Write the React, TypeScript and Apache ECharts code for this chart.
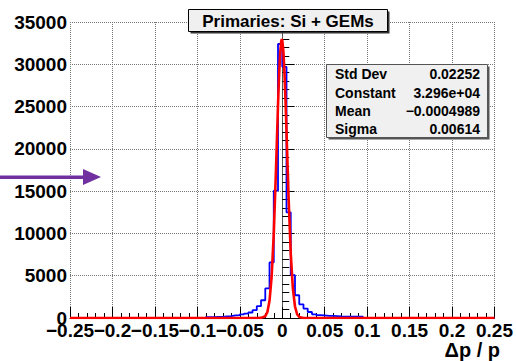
import React, { useEffect, useRef } from "react";
import * as echarts from "echarts";

// Histogram: 100 bins from -0.25 to 0.25 (bin width 0.005)
const BIN_MIN = -0.25;
const BIN_WIDTH = 0.005;
const histCounts = [
  0, 0, 0, 0, 0, 0, 0, 0, 0, 0,
  0, 0, 0, 0, 0, 0, 0, 0, 0, 0,
  0, 0, 0, 0, 0, 0, 0, 0, 0, 0,
  0, 0, 100, 100, 120, 120, 200, 220, 300, 330,
  420, 520, 650, 930, 1400, 2100, 3500, 6570, 15060, 32400,
  29700, 12500, 5060, 2690, 1620, 1110, 710, 440, 330, 320,
  250, 240, 230, 180, 170, 170, 160, 160, 150, 0,
  0, 0, 0, 0, 0, 0, 0, 0, 0, 0,
  0, 0, 0, 0, 0, 0, 0, 0, 0, 0,
  0, 0, 0, 0, 0, 0, 0, 0, 0, 0,
];

// Fit curve points
const fitX = [
  -0.25, -0.03, -0.025, -0.02, -0.0175, -0.015, -0.0125, -0.01, -0.0075,
  -0.005, -0.00375, -0.0025, -0.00125, -0.0005, 0, 0.00125, 0.0025, 0.00375,
  0.005, 0.0075, 0.01, 0.0125, 0.015, 0.0175, 0.02, 0.025, 0.03, 0.25,
];
const fitY = [
  0, 0, 11, 213, 713, 2027, 4880, 9955, 17210,
  25195, 28650, 31250, 32715, 32960, 32850, 31650, 29250, 25950,
  22070, 14105, 7640, 3507, 1362, 449, 125, 6, 0, 0,
];

const X_MIN = -0.25;
const X_MAX = 0.25;
const X_STEP = 0.05;
const Y_MIN = 0;
const Y_MAX = 35000;
const Y_STEP = 5000;

const titleText = "Primaries: Si + GEMs";
const statsLabels = ["Std Dev", "Constant", "Mean", "Sigma"];
const statsValues = ["0.02252", "3.296e+04", "\u22120.0004989", "0.00614"];
const xAxisTitle = "\u0394p / p";

const FONT = "'Liberation Sans', Arial, Helvetica, sans-serif";

export default function App() {
  const ref = useRef<HTMLDivElement>(null);

  useEffect(() => {
    const chart = echarts.init(ref.current!, null, { renderer: "svg" });

    const histData: number[][] = histCounts.map((c, i) => [BIN_MIN + i * BIN_WIDTH, c]);
    histData.push([BIN_MIN + histCounts.length * BIN_WIDTH, 0]);
    const fitData = fitX.map((x, i) => [x, fitY[i]]);

    const fmtNum = (v: number) => {
      const r = Math.round(v * 1000) / 1000;
      if (r === 0) return "0";
      return r < 0 ? "\u2212" + String(-r) : String(r);
    };
    // Two label layers (even / odd ticks) so that ECharts keeps every label
    const tickIndex = (v: number) => Math.round((v - X_MIN) / X_STEP);
    const fmtEven = (v: number) => (tickIndex(v) % 2 === 0 ? fmtNum(v) : "");
    const fmtOdd = (v: number) => (tickIndex(v) % 2 === 1 ? fmtNum(v) : "");
    const fmtY = (v: number) => String(Math.round(v));

    const labelStyle = {
      show: true,
      hideOverlap: false,
      margin: 3,
      color: "#000",
      fontSize: 19,
      fontWeight: "bold",
      fontFamily: FONT,
      showMinLabel: true,
      showMaxLabel: true,
    };

    const statsRowY = [74, 92.5, 111, 129];

    chart.setOption({
      animation: false,
      backgroundColor: "#ffffff",
      grid: { left: 70, right: 20, top: 22, bottom: 43, containLabel: false },
      xAxis: [
        {
          type: "value",
          position: "bottom",
          min: X_MIN,
          max: X_MAX,
          interval: X_STEP,
          axisLine: { show: true, onZero: false, lineStyle: { color: "#000", width: 1 } },
          axisTick: { show: true, inside: true, length: 11, lineStyle: { color: "#000" } },
          minorTick: { show: true, splitNumber: 5, length: 5, lineStyle: { color: "#000" } },
          splitLine: { show: true, lineStyle: { type: "dotted", color: "#777", width: 1 } },
          axisLabel: { ...labelStyle, formatter: fmtEven },
        },
        {
          type: "value",
          position: "bottom",
          min: X_MIN,
          max: X_MAX,
          interval: X_STEP,
          axisLine: { show: false, onZero: false },
          axisTick: { show: false },
          minorTick: { show: false },
          splitLine: { show: false },
          axisLabel: { ...labelStyle, formatter: fmtOdd },
        },
      ],
      yAxis: [
        {
          type: "value",
          min: Y_MIN,
          max: Y_MAX,
          interval: Y_STEP,
          axisLine: { show: true, lineStyle: { color: "#000", width: 1 } },
          axisTick: { show: true, inside: true, length: 12, lineStyle: { color: "#000" } },
          minorTick: { show: true, splitNumber: 5, length: 7, lineStyle: { color: "#000" } },
          splitLine: { show: true, lineStyle: { type: "dotted", color: "#777", width: 1 } },
          axisLabel: {
            margin: 3,
            color: "#000",
            fontSize: 19,
            fontWeight: "bold",
            fontFamily: FONT,
            hideOverlap: false,
            formatter: fmtY,
          },
        },
        {
          type: "value",
          position: "right",
          min: Y_MIN,
          max: Y_MAX,
          interval: Y_STEP,
          axisLine: { show: true, lineStyle: { color: "#555", width: 1 } },
          axisTick: { show: false },
          axisLabel: { show: false },
          splitLine: { show: false },
        },
      ],
      series: [
        {
          type: "line",
          name: "hist",
          xAxisIndex: 0,
          yAxisIndex: 0,
          data: histData,
          step: "end",
          showSymbol: false,
          symbol: "none",
          lineStyle: { color: "#0000ff", width: 1.8 },
          z: 3,
        },
        {
          type: "line",
          name: "fit",
          xAxisIndex: 0,
          yAxisIndex: 0,
          data: fitData,
          showSymbol: false,
          symbol: "none",
          smooth: false,
          lineStyle: { color: "#ff0000", width: 2.6 },
          z: 4,
        },
      ],
      graphic: [
        // Title box
        {
          type: "rect",
          z: 100,
          shape: { x: 190.5, y: 11.5, width: 199, height: 22 },
          style: { fill: "#333" },
        },
        {
          type: "rect",
          z: 101,
          shape: { x: 188.5, y: 9.5, width: 199, height: 22 },
          style: { fill: "#f0f0f0", stroke: "#000", lineWidth: 1 },
        },
        {
          type: "text",
          z: 102,
          x: 288,
          y: 21,
          style: {
            text: titleText,
            fill: "#000",
            font: `bold 17px ${FONT}`,
            align: "center",
            verticalAlign: "middle",
          },
        },
        // Stats box
        {
          type: "rect",
          z: 100,
          shape: { x: 328.5, y: 66.5, width: 161, height: 73 },
          style: { fill: "#555" },
        },
        {
          type: "rect",
          z: 101,
          shape: { x: 326.5, y: 64.5, width: 161, height: 73 },
          style: { fill: "#f0f0f0", stroke: "#555", lineWidth: 1 },
        },
        ...statsLabels.map((t, i) => ({
          type: "text",
          z: 102,
          x: 335,
          y: statsRowY[i],
          style: {
            text: t,
            fill: "#000",
            font: `bold 14px ${FONT}`,
            align: "left",
            verticalAlign: "middle",
          },
        })),
        ...statsValues.map((t, i) => ({
          type: "text",
          z: 102,
          x: 480,
          y: statsRowY[i],
          style: {
            text: t,
            fill: "#000",
            font: `bold 14px ${FONT}`,
            align: "right",
            verticalAlign: "middle",
          },
        })),
        // X axis title
        {
          type: "text",
          z: 102,
          x: 500,
          y: 350,
          style: {
            text: xAxisTitle,
            fill: "#000",
            font: `bold 20px ${FONT}`,
            align: "right",
            verticalAlign: "middle",
          },
        },
        // Purple arrow
        {
          type: "rect",
          z: 110,
          shape: { x: 0, y: 175.5, width: 85, height: 3.5 },
          style: { fill: "#7030a0" },
        },
        {
          type: "polygon",
          z: 110,
          shape: { points: [[83, 169], [101, 177], [83, 185]] },
          style: { fill: "#7030a0" },
        },
      ],
    });

    return () => {
      chart.dispose();
    };
  }, []);

  return (
    <div
      ref={ref}
      style={{ position: "fixed", left: 0, top: 0, width: 516, height: 361 }}
    />
  );
}
